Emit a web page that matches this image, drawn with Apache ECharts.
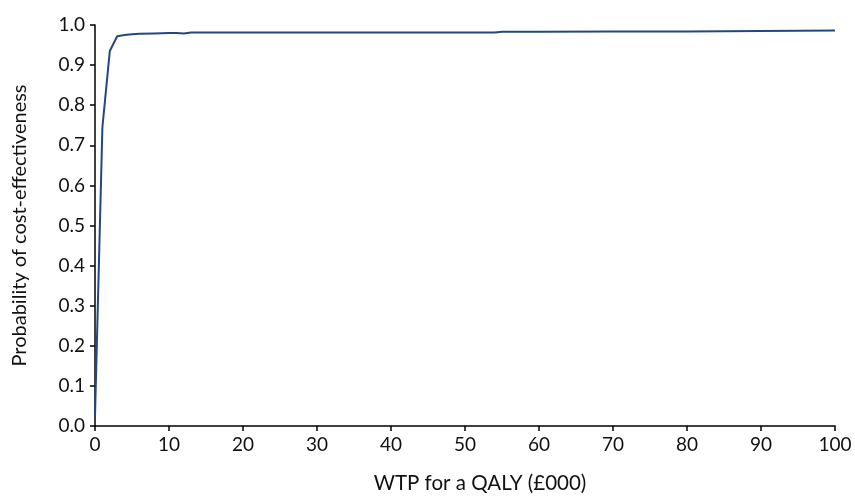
<!DOCTYPE html>
<html>
<head>
<meta charset="utf-8">
<script src="https://cdn.jsdelivr.net/npm/echarts@6/dist/echarts.min.js"></script>
<style>
html,body{margin:0;padding:0;background:#fff;}
#chart{width:855px;height:499px;}
</style>
</head>
<body>
<div id="chart"></div>
<script>
const wtp = [0, 1, 2, 3, 4, 5, 6, 8, 10, 11, 12, 13, 20, 30, 40, 50, 54, 55, 60, 70, 80, 90, 100];
const probability = [0.025, 0.745, 0.935, 0.972, 0.975, 0.977, 0.978, 0.979, 0.980, 0.980, 0.979, 0.981, 0.981, 0.981, 0.981, 0.981, 0.981, 0.983, 0.983, 0.984, 0.984, 0.985, 0.986];
const xTicks = [0, 10, 20, 30, 40, 50, 60, 70, 80, 90, 100];
const yTicks = [0.0, 0.1, 0.2, 0.3, 0.4, 0.5, 0.6, 0.7, 0.8, 0.9, 1.0];

const chart = echarts.init(document.getElementById('chart'), null, {renderer: 'canvas'});
const font = 'Lato';
chart.setOption({
  animation: false,
  grid: {left: 95, right: 20, top: 25, bottom: 65, containLabel: false},
  xAxis: {
    type: 'value',
    min: xTicks[0], max: xTicks[xTicks.length - 1], interval: 10,
    name: 'WTP for a QALY (£000)',
    nameLocation: 'middle', nameGap: 47,
    nameTextStyle: {fontFamily: font, fontSize: 20.5, color: '#111', padding: [0, 0, 0, 30]},
    axisLine: {show: true, lineStyle: {color: '#000', width: 1.5}},
    axisTick: {show: true, length: 5, inside: false, lineStyle: {color: '#000', width: 1.5}},
    axisLabel: {fontFamily: font, fontSize: 19, color: '#111', margin: 9},
    splitLine: {show: false}
  },
  yAxis: {
    type: 'value',
    min: yTicks[0], max: yTicks[yTicks.length - 1], interval: 0.1,
    name: 'Probability of cost-effectiveness',
    nameLocation: 'middle', nameGap: 65,
    nameTextStyle: {fontFamily: font, fontSize: 20, color: '#111', padding: [0, 0, 0, 0]},
    axisLine: {show: true, lineStyle: {color: '#000', width: 1.5}},
    axisTick: {show: true, length: 5, lineStyle: {color: '#000', width: 1.5}},
    axisLabel: {fontFamily: font, fontSize: 19, color: '#111', margin: 10,
      formatter: v => v.toFixed(1)},
    splitLine: {show: false}
  },
  series: [{
    type: 'line',
    data: wtp.map((x, i) => [x, probability[i]]),
    showSymbol: false,
    lineStyle: {color: '#23477f', width: 2},
    itemStyle: {color: '#23477f'}
  }]
});
</script>
</body>
</html>
